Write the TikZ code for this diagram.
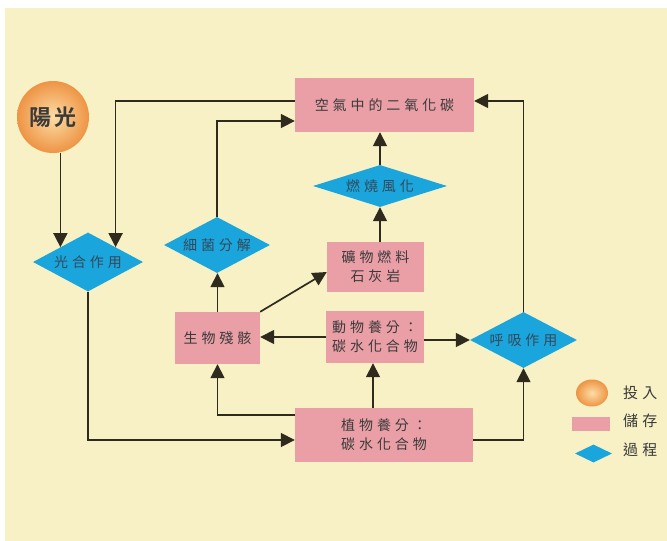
\documentclass[tikz,border=0pt]{standalone}
\usepackage{fontspec}
\newfontfamily\cjk[LetterSpace=28]{Noto Sans CJK TC}
\newfontfamily\cjkbold[LetterSpace=12]{Noto Sans CJK TC Bold}
\usetikzlibrary{shapes.geometric,arrows.meta}
\definecolor{cream}{HTML}{F8F1C6}
\definecolor{boxpink}{HTML}{EA9FA7}
\definecolor{procblue}{HTML}{1AA6DD}
\definecolor{linec}{HTML}{2E2B1E}
\definecolor{txt}{HTML}{3A3A3A}
\definecolor{dtxt}{HTML}{34495A}
\definecolor{sunout}{HTML}{EE9444}
\definecolor{sunin}{HTML}{FCDDA6}
\tikzset{
  store/.style={rectangle, fill=boxpink, draw=none, inner sep=0pt, text=txt,
    font=\cjk\fontsize{14}{19}\selectfont},
  proc/.style={diamond, aspect=2.5, fill=procblue, draw=none, inner sep=0pt, text=dtxt,
    font=\cjk\fontsize{14}{19}\selectfont},
  arr/.style={draw=linec, line width=1.7pt,
    -{Triangle[length=14pt,width=14pt]}},
  legtext/.style={text=txt, font=\cjk\fontsize{15}{19}\selectfont, anchor=west, inner sep=0pt}
}
\begin{document}
\begin{tikzpicture}[x=1pt,y=-1pt]
\useasboundingbox (0,0) rectangle (667,541);
\fill[white] (0,0) rectangle (667,541);
\fill[cream] (5,8) rectangle (667,541);

% nodes
\node[store, minimum width=179pt, minimum height=54pt] (air) at (384.5,105) {空氣中的二氧化碳};
\node[circle, minimum size=72pt, inner sep=0pt, shading=radial, inner color=sunin, outer color=sunout, text=txt, font=\cjkbold\fontsize{22}{24}\selectfont] (sun) at (53,117) {陽光};
\node[proc, minimum width=110pt, minimum height=59pt] (photo) at (88,262) {光合作用};
\node[proc, minimum width=106pt, minimum height=56pt] (bact) at (217,245) {細菌分解};
\node[proc, minimum width=134pt, minimum height=42pt] (burn) at (380,186) {燃燒風化};
\node[store, minimum width=97pt, minimum height=50pt, align=center] (fossil) at (375.5,267) {礦物燃料\\石灰岩};
\node[store, minimum width=85pt, minimum height=52pt] (remains) at (217.5,338) {生物殘骸};
\node[store, minimum width=98pt, minimum height=52pt, align=left] (animal) at (375,337) {動物養分：\\碳水化合物};
\node[proc, minimum width=107pt, minimum height=56pt] (resp) at (523.5,340) {呼吸作用};
\node[store, minimum width=178pt, minimum height=54pt, align=left] (plant) at (384,435) {植物養分：\\碳水化合物};

% connectors
\draw[arr] (sun.south -| photo.north west) -- (photo.north west);
\draw[arr] ([yshift=4pt]air.west) -| (photo.north east);
\draw[arr] (bact.north) |- ([yshift=-16pt]air.west);
\draw[arr] (burn.north) -- (burn.north |- air.south);
\draw[arr] (burn.south |- fossil.north) -- (burn.south);
\draw[arr] (resp.north) |- ([yshift=4pt]air.east);
\draw[arr] (remains.north) -- (remains.north |- bact.south);
\draw[arr] (remains.north east) -- ([yshift=-5pt]fossil.west);
\draw[arr] (animal.west) -- (animal.west -| remains.east);
\draw[arr] (animal.east |- resp.west) -- (resp.west);
\draw[arr] ([xshift=-11pt]plant.north) -- ([xshift=-11pt]plant.north |- animal.south);
\draw[arr] ([yshift=-5pt]plant.east) -| (resp.south);
\draw[arr] ([yshift=20pt]plant.west) -| (remains.south);
\draw[arr] (photo.south) |- ([yshift=-5pt]plant.west);

% legend
\node[ellipse, minimum width=32pt, minimum height=27pt, inner sep=0pt, shading=radial, inner color=sunin, outer color=sunout] (leg1) at (592,393) {};
\node[rectangle, fill=boxpink, minimum width=38pt, minimum height=14pt, inner sep=0pt] (leg2) at (591,423.5) {};
\node[diamond, aspect=2, fill=procblue, minimum width=37pt, minimum height=18pt, inner sep=0pt] (leg3) at (593.5,453.5) {};
\node[legtext] (legt1) at (623,393) {投入};
\node[legtext] (legt2) at (623,421) {儲存};
\node[legtext] (legt3) at (623,450) {過程};
\end{tikzpicture}
\end{document}
